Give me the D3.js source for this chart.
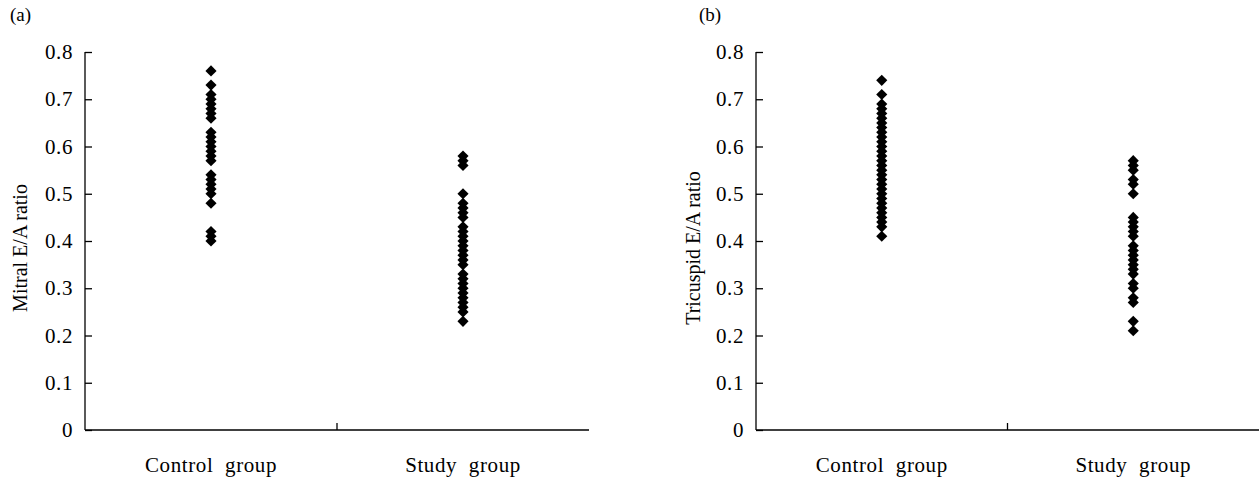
<!DOCTYPE html>
<html><head><meta charset="utf-8">
<script src="https://cdn.jsdelivr.net/npm/d3@7"></script>
<style>
html,body{margin:0;padding:0;background:#fff;}
svg{display:block;font-family:"Liberation Serif","DejaVu Serif",serif;}
</style></head>
<body>
<svg id="chart" width="1259" height="480"></svg>
<script>
const categories = ["Control group", "Study group"];
const yTicks = [0, 0.1, 0.2, 0.3, 0.4, 0.5, 0.6, 0.7, 0.8];
const yTickLabels = ["0", "0.1", "0.2", "0.3", "0.4", "0.5", "0.6", "0.7", "0.8"];

const mitralControl = [0.76, 0.73, 0.71, 0.70, 0.69, 0.68, 0.67, 0.66, 0.63, 0.62, 0.61, 0.60, 0.59, 0.58, 0.57, 0.54, 0.53, 0.52, 0.51, 0.50, 0.48, 0.42, 0.41, 0.40];
const mitralStudy = [0.58, 0.57, 0.56, 0.50, 0.48, 0.47, 0.46, 0.45, 0.43, 0.42, 0.41, 0.40, 0.39, 0.38, 0.37, 0.36, 0.35, 0.33, 0.32, 0.31, 0.30, 0.29, 0.28, 0.27, 0.26, 0.25, 0.23];
const tricuspidControl = [0.74, 0.71, 0.69, 0.68, 0.67, 0.66, 0.65, 0.64, 0.63, 0.62, 0.61, 0.60, 0.59, 0.58, 0.57, 0.56, 0.55, 0.54, 0.53, 0.52, 0.51, 0.50, 0.49, 0.48, 0.47, 0.46, 0.45, 0.44, 0.43, 0.41];
const tricuspidStudy = [0.57, 0.56, 0.55, 0.53, 0.52, 0.50, 0.45, 0.44, 0.43, 0.42, 0.41, 0.39, 0.38, 0.37, 0.36, 0.35, 0.34, 0.33, 0.31, 0.30, 0.28, 0.27, 0.23, 0.21];

const panels = [
  {tag: "(a)", ylabel: "Mitral E/A ratio", series: [mitralControl, mitralStudy], x0: 85, x1: 589, tagX: 10, labX: 21},
  {tag: "(b)", ylabel: "Tricuspid E/A ratio", series: [tricuspidControl, tricuspidStudy], x0: 756, x1: 1259, tagX: 699, labX: 694}
];

const svg = d3.select("#chart");
const yTop = 52, yBot = 430;
const fs = 21;
const ls = "0.6px";

const diamondSq = {
  draw(ctx, size) {
    const r = Math.sqrt(size / 2);
    ctx.moveTo(0, -r); ctx.lineTo(r, 0); ctx.lineTo(0, r); ctx.lineTo(-r, 0); ctx.closePath();
  }
};
const sym = d3.symbol().type(diamondSq).size(62);

panels.forEach(p => {
  const g = svg.append("g");
  const y = d3.scaleLinear().domain([0, 0.8]).range([yBot, yTop]);
  const x = d3.scaleBand().domain(categories).range([p.x0, p.x1]).paddingInner(0).paddingOuter(0);

  const ya = d3.axisLeft(y).tickValues(yTicks)
    .tickFormat((d, i) => yTickLabels[i]).tickSize(-7).tickPadding(12);
  const yg = g.append("g").attr("transform", `translate(${p.x0},0)`).call(ya);
  yg.select(".domain").attr("stroke", "#000").attr("stroke-width", 1.3).attr("d", `M0,${yTop}V${yBot}`);
  yg.selectAll(".tick line").attr("stroke", "#000").attr("stroke-width", 1.3);
  yg.selectAll(".tick text").attr("font-size", fs).attr("fill", "#000")
    .attr("font-family", "Liberation Serif, serif").style("letter-spacing", ls);

  g.append("line").attr("x1", p.x0).attr("x2", p.x1).attr("y1", yBot).attr("y2", yBot)
    .attr("stroke", "#000").attr("stroke-width", 1.3);
  const bx = x(categories[1]);
  g.append("line").attr("x1", bx).attr("x2", bx).attr("y1", yBot).attr("y2", yBot - 7)
    .attr("stroke", "#000").attr("stroke-width", 1.3);
  g.selectAll("text.cat").data(categories).join("text").attr("class", "cat")
    .attr("x", d => x(d) + x.bandwidth() / 2).attr("y", 472)
    .attr("text-anchor", "middle").attr("font-size", fs).attr("fill", "#000")
    .style("white-space", "pre").style("letter-spacing", ls)
    .text(d => d.replace(" ", "  "));

  p.series.forEach((vals, si) => {
    const cx = x(categories[si]) + x.bandwidth() / 2;
    g.selectAll(null).data(vals).join("path")
      .attr("d", sym).attr("fill", "#000")
      .attr("transform", d => `translate(${cx},${y(d)})`);
  });

  g.append("text").attr("x", p.tagX).attr("y", 21).attr("font-size", 19).attr("fill", "#000").text(p.tag);
  g.append("text").attr("transform", `translate(${p.labX + 6},${(yTop + yBot) / 2 + 7}) rotate(-90)`)
    .attr("text-anchor", "middle").attr("font-size", fs - 1).attr("fill", "#000").text(p.ylabel);
});
</script>
</body></html>
